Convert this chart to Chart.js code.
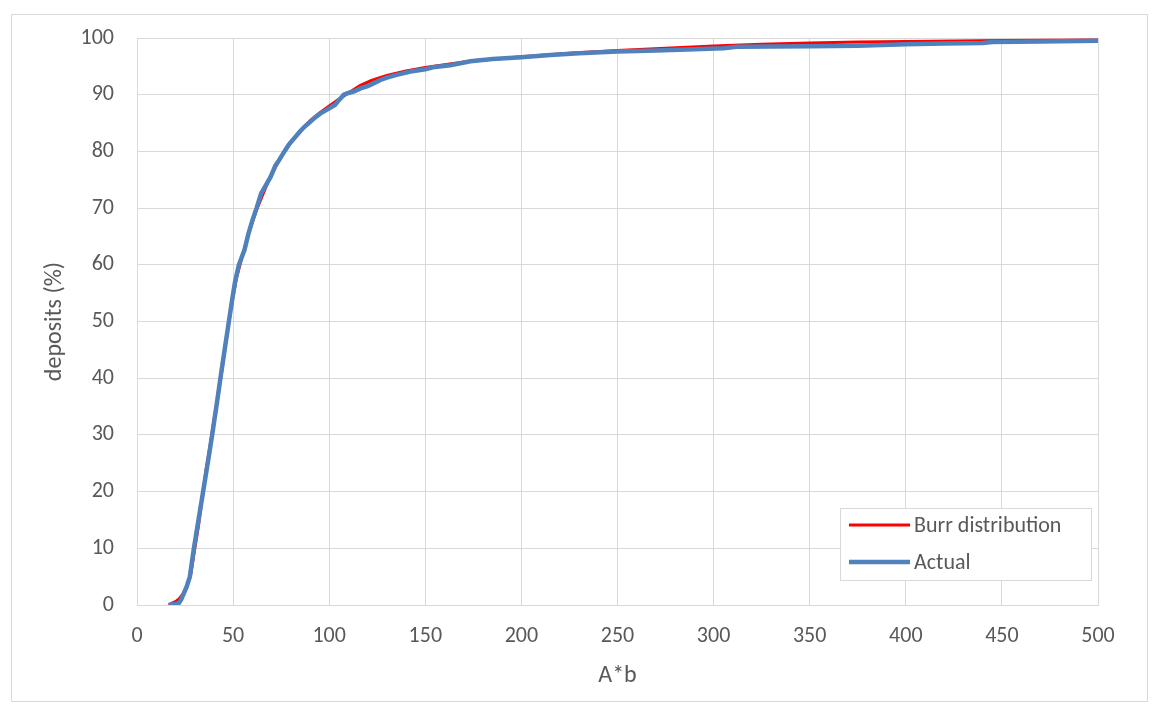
<!DOCTYPE html>
<html>
<head>
<meta charset="utf-8">
<script src="https://cdn.jsdelivr.net/npm/chart.js@4.4.1/dist/chart.umd.min.js"></script>
<style>
  html, body { margin: 0; padding: 0; background: #ffffff; }
  #frame { position: absolute; left: 11px; top: 14px; width: 1137px; height: 688px; box-sizing: border-box; border: 1px solid #d9d9d9; }
  #wrap { position: absolute; left: 0; top: 0; width: 1159px; height: 706px; }
</style>
</head>
<body>
<div id="frame"></div>
<div id="wrap"><canvas id="c" width="1159" height="706"></canvas></div>
<script>
// ---- data ----
const seriesNames = ["Burr distribution", "Actual"];
const xTicks = [0, 50, 100, 150, 200, 250, 300, 350, 400, 450, 500];
const yTicks = [0, 10, 20, 30, 40, 50, 60, 70, 80, 90, 100];

const burrX = [16.5, 18, 20, 22, 24, 26, 28, 30, 32, 34, 36, 38, 40, 42, 44, 46, 48, 50, 52, 54, 56, 58, 60, 62, 65, 68, 72, 76, 80, 85, 90, 95, 100, 105, 110, 116, 122, 130, 140, 150, 160, 175, 190, 200, 225, 250, 275, 300, 325, 350, 375, 400, 450, 500];
const burrY = [0, 0.3, 0.6, 1.1, 2.0, 3.3, 5.5, 9.8, 14, 19, 24, 28, 32.5, 36.5, 41, 46, 50.5, 54.5, 58, 60.5, 63, 65.5, 67.5, 69.5, 72, 74.5, 77.2, 79.6, 81.5, 83.5, 85.4, 86.8, 88, 89.2, 90.3, 91.6, 92.5, 93.4, 94.2, 94.8, 95.3, 96, 96.4, 96.7, 97.3, 97.8, 98.2, 98.6, 98.9, 99.1, 99.3, 99.4, 99.55, 99.65];

const actualX = [16.5, 18, 20, 21.7, 23, 24.3, 25.8, 27.5, 29.6, 32, 34.4, 36.8, 39.1, 41.3, 43.4, 45.6, 47.8, 49.5, 51, 53, 55.9, 58, 60, 62.2, 64.6, 67, 69.5, 72, 74, 76.7, 79, 82.5, 85, 87, 89.4, 92, 95.5, 98, 100, 103, 105, 107.6, 110, 113, 116.3, 120, 123, 126.7, 130, 135, 142.3, 150, 155, 163, 173.5, 185, 200, 215, 230, 250, 270, 290, 305, 312, 330, 350, 375, 400, 420, 440, 445, 470, 500];
const actualY = [0, 0.1, 0.2, 0.3, 1, 2, 3.2, 5, 10, 15, 20, 25, 30, 35, 40, 45, 50, 53.8, 57, 60, 62.6, 65.5, 67.8, 70, 72.6, 74, 75.5, 77.5, 78.5, 80, 81.2, 82.6, 83.6, 84.3, 85, 85.8, 86.7, 87.2, 87.6, 88.2, 89, 90, 90.3, 90.6, 91.1, 91.5, 92.0, 92.6, 93.0, 93.5, 94.1, 94.5, 94.9, 95.2, 95.9, 96.3, 96.6, 97.0, 97.3, 97.6, 97.8, 98.0, 98.2, 98.45, 98.5, 98.55, 98.65, 98.9, 99.05, 99.1, 99.3, 99.4, 99.5];

const seriesColors = ["#FF0000", "#4F81BD"];

// ---- chart ----
const FONT = "Carlito, Calibri, Lato, sans-serif";
const TEXT = "#595959";
const GRID = "#d9d9d9";

function pts(xs, ys) { return xs.map((x, i) => ({ x: x, y: ys[i] })); }

const boxLegend = {
  id: "boxLegend",
  afterDraw(chart) {
    const ctx = chart.ctx;
    const L = 840, T = 508, R = 1092, B = 581;
    ctx.save();
    ctx.fillStyle = "#ffffff";
    ctx.fillRect(L, T, R - L, B - T);
    ctx.strokeStyle = GRID;
    ctx.lineWidth = 1;
    ctx.strokeRect(L + 0.5, T + 0.5, R - L - 1, B - T - 1);
    const rows = [525, 562];
    chart.data.datasets.forEach((ds, i) => {
      const y = rows[i];
      ctx.strokeStyle = ds.borderColor;
      ctx.lineWidth = ds.borderWidth;
      ctx.beginPath();
      ctx.moveTo(849, y);
      ctx.lineTo(910, y);
      ctx.stroke();
      ctx.fillStyle = TEXT;
      ctx.font = "22px " + FONT;
      ctx.textBaseline = "middle";
      ctx.textAlign = "left";
      ctx.fillText(ds.label, 914, y + 1);
    });
    ctx.restore();
  }
};

new Chart(document.getElementById("c"), {
  type: "scatter",
  data: {
    datasets: [
      { label: seriesNames[0], data: pts(burrX, burrY), showLine: true, borderColor: seriesColors[0], backgroundColor: seriesColors[0], borderWidth: 3, pointRadius: 0, order: 1, tension: 0 },
      { label: seriesNames[1], data: pts(actualX, actualY), showLine: true, borderColor: seriesColors[1], backgroundColor: seriesColors[1], borderWidth: 4.5, pointRadius: 0, order: 0, tension: 0 }
    ]
  },
  options: {
    responsive: false,
    animation: false,
    devicePixelRatio: 1,
    layout: { padding: { left: 37, top: 38, right: 61, bottom: 0 } },
    plugins: { legend: { display: false }, tooltip: { enabled: false } },
    scales: {
      x: {
        type: "linear", min: 0, max: 500,
        afterBuildTicks: (s) => { s.ticks = xTicks.map(v => ({ value: v })); },
        afterFit: (s) => { s.height = 101; },
        grid: { color: GRID, lineWidth: 1, drawTicks: false },
        border: { color: GRID, width: 1 },
        ticks: { color: TEXT, font: { family: FONT, size: 22 }, padding: 18, maxRotation: 0 },
        title: { display: true, text: "A*b", color: TEXT, font: { family: FONT, size: 24 }, padding: { top: 0, bottom: 16 } }
      },
      y: {
        type: "linear", min: 0, max: 100,
        afterBuildTicks: (s) => { s.ticks = yTicks.map(v => ({ value: v })); },
        afterFit: (s) => { s.width = 100; },
        grid: { color: GRID, lineWidth: 1, drawTicks: false },
        border: { color: GRID, width: 1 },
        ticks: { color: TEXT, font: { family: FONT, size: 22 }, padding: 23 },
        title: { display: true, text: "deposits (%)", color: TEXT, font: { family: FONT, size: 24 }, padding: { top: 4, bottom: 0 } }
      }
    }
  },
  plugins: [boxLegend]
});
</script>
</body>
</html>
